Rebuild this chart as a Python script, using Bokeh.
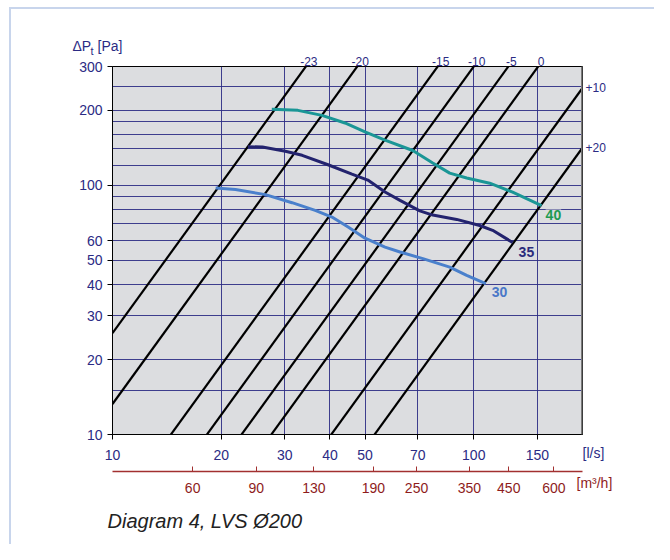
from bokeh.plotting import figure
from bokeh.models import Range1d, LogAxis, FixedTicker, Label, Span
from bokeh.embed import file_html
from bokeh.resources import INLINE

# ---------------- data ----------------
ls_ticks = [10, 20, 30, 40, 50, 70, 100, 150]
pa_ticks = [10, 20, 30, 40, 50, 60, 100, 200, 300]
xgrid_vals = [20, 30, 40, 50, 70, 100, 150]
ygrid_vals = [15, 20, 30, 40, 50, 60, 70, 80, 90, 100, 120, 140, 160, 180, 200, 250]
m3h_ticks = [60, 90, 130, 190, 250, 350, 450, 600]

# damper settings: pressure drop [Pa] at 100 l/s on each system line (dp ~ q^2)
settings = ["-23", "-20", "-15", "-10", "-5", "0", "+10", "+20"]
dp_at_100 = [2550, 1325, 475, 300, 193, 132, 61.5, 35.4]

flow_40 = [27.6, 32.6, 38.0, 44.0, 50.0, 56.8, 67.8, 77.0, 85.8, 95.6, 110.7, 128.1, 154.1]
dp_40 = [202, 200, 191, 178, 164, 152, 138, 123, 112, 107, 102, 94, 83]

flow_35 = [23.7, 26.0, 30.1, 33.5, 39.5, 46.0, 50.9, 56.8, 62.5, 70.9, 77.0, 89.7, 103.9, 112.8, 128.1]
dp_35 = [143, 142.5, 137, 132, 121, 111, 105, 94, 87, 79, 76, 73, 69, 66, 59]

flow_30 = [19.3, 21.9, 26.5, 31.4, 36.4, 40.5, 44.9, 50.0, 56.8, 62.5, 72.3, 85.8, 95.6, 107.9]
dp_30 = [97.5, 96.3, 91.8, 85.2, 79.4, 74.6, 68.0, 61.4, 56.5, 54.0, 50.8, 47.0, 43.5, 40.3]

curves = [
    ("40", flow_40, dp_40, "#1a9696", "#1e9a52", 4, -9),
    ("35", flow_35, dp_35, "#23236e", "#2b2b7c", 6, -10),
    ("30", flow_30, dp_30, "#4a80cc", "#4a78c8", 6, -8),
]

X0, X1, Y0, Y1 = 10, 200, 10, 300
NAVY = "#2b2b84"
RED = "#8e1c1c"
FONT = "Liberation Sans"
BG = "#dcdde0"
FRAME_BLUE = "#c8d5ec"

p = figure(width=654, height=544, x_axis_type="log", y_axis_type="log",
           x_range=Range1d(X0, X1), y_range=Range1d(Y0, Y1),
           output_backend="svg", toolbar_location=None,
           min_border_left=112, min_border_right=72, min_border_top=66,
           min_border_bottom=110)
p.styles = {"background": (f"linear-gradient({FRAME_BLUE},{FRAME_BLUE}) 9px 7px / 2px 100% no-repeat, "
                           f"linear-gradient({FRAME_BLUE},{FRAME_BLUE}) 9px 7px / 100% 2px no-repeat, "
                           "#ffffff")}

p.background_fill_color = BG
p.border_fill_color = None
p.outline_line_color = "black"
p.outline_line_width = 1

for g, vals in ((p.xgrid, xgrid_vals), (p.ygrid, ygrid_vals)):
    g.ticker = FixedTicker(ticks=vals)
    g.grid_line_color = NAVY
    g.grid_line_width = 1
    g.grid_line_alpha = 0.9

p.xaxis.ticker = FixedTicker(ticks=ls_ticks)
p.yaxis.ticker = FixedTicker(ticks=pa_ticks)
for ax in (p.xaxis, p.yaxis):
    ax.axis_line_color = "black"
    ax.major_tick_line_color = "black"
    ax.major_tick_out = 5
    ax.major_tick_in = 0
    ax.minor_tick_line_color = None
    ax.major_label_text_color = NAVY
    ax.major_label_text_font = FONT
    ax.major_label_text_font_size = "14px"
p.yaxis.major_label_standoff = 5
p.xaxis.major_label_standoff = 10
p.xaxis.axis_label = " "
p.xaxis.axis_label_text_font_size = "4px"
p.xaxis.axis_label_standoff = 1

# secondary flow axis in m3/h
m3h_pos = [v / 3.6 for v in m3h_ticks]
ax2 = LogAxis(ticker=FixedTicker(ticks=m3h_pos),
              major_label_overrides={pos: str(v) for pos, v in zip(m3h_pos, m3h_ticks)})
ax2.axis_line_color = "#a23030"
ax2.axis_line_width = 1.3
ax2.major_tick_line_color = "#a23030"
ax2.major_tick_in = 5
ax2.major_tick_out = 0
ax2.minor_tick_line_color = None
ax2.major_label_text_color = RED
ax2.major_label_text_font = FONT
ax2.major_label_text_font_size = "14px"
ax2.major_label_standoff = 11
p.add_layout(ax2, "below")

# damper setting labels: where each system line leaves the chart (top or right edge)
top_pos, top_lab, right_pos, right_lab = [], [], [], []
for s, d in zip(settings, dp_at_100):
    x_top = 100 * (Y1 / d) ** 0.5
    if x_top <= X1:
        top_pos.append(x_top * 10 ** (3 / 361))
        top_lab.append(s)
    else:
        right_pos.append(d * (X1 / 100) ** 2)
        right_lab.append(s)

for side, rng_pos, labs, standoff in (("above", top_pos, top_lab, 1), ("right", right_pos, right_lab, 3)):
    a = LogAxis(ticker=FixedTicker(ticks=rng_pos),
                major_label_overrides={t: l for t, l in zip(rng_pos, labs)})
    a.axis_line_color = None
    a.major_tick_line_color = None
    a.major_tick_in = 0
    a.major_tick_out = 0
    a.minor_tick_line_color = None
    a.minor_tick_in = 0
    a.minor_tick_out = 0
    a.major_label_text_color = NAVY
    a.major_label_text_font = FONT
    a.major_label_text_font_size = "12px"
    a.major_label_standoff = standoff
    p.add_layout(a, side)

# system (damper) lines
xs, ys = [], []
for d in dp_at_100:
    xs.append([X0, X1])
    ys.append([d * (X0 / 100) ** 2, d * (X1 / 100) ** 2])
p.multi_line(xs, ys, line_color="black", line_width=2.2)

for name, fx, fy, lc, tc, dx, dy in curves:
    p.line(fx, fy, line_color=lc, line_width=3)
    p.add_layout(Label(x=fx[-1], y=fy[-1], x_offset=dx, y_offset=dy, text=name,
                       text_color=tc, text_font=FONT, text_font_size="14px",
                       text_font_style="bold", text_baseline="middle",
                       background_fill_color=BG))

p.add_layout(Span(location=X1, dimension="height", line_color="#7a7a7a", line_width=3))


def side_label(side, text, x, y, color, size="14px", style="normal"):
    p.add_layout(Label(x=x, y=y, x_units="canvas", y_units="canvas", text=text,
                       text_color=color, text_font=FONT, text_font_size=size,
                       text_font_style=style, text_baseline="middle"), side)


side_label("left", "ΔP", 72, 45, NAVY)
side_label("left", "t", 90, 50, NAVY, "11px")
side_label("left", "[Pa]", 97, 45, NAVY)
side_label("right", "[l/s]", 582, 452, NAVY)
side_label("below", "[m³/h]", 576, 482, RED)
side_label("below", "Diagram 4, LVS Ø200", 107, 520, "#222222", "20px", "italic")

open("out.html", "w").write(file_html(p, INLINE))
